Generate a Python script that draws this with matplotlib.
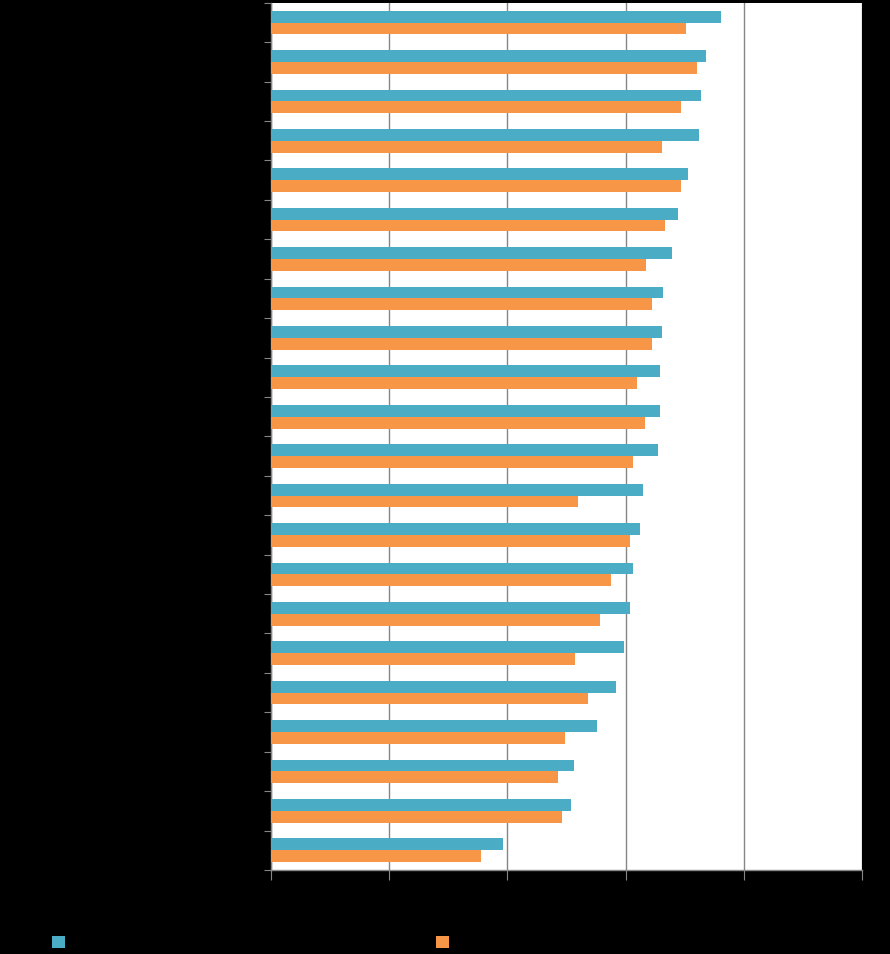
import numpy as np
import matplotlib.pyplot as plt

# values (axis 0-100, top category first)
series_a = [76.1, 73.6, 72.8, 72.4, 70.5, 68.8, 67.8, 66.3, 66.1, 65.8, 65.8,
            65.4, 62.9, 62.5, 61.2, 60.8, 59.8, 58.3, 55.1, 51.2, 50.8, 39.3]
series_b = [70.3, 72.0, 69.4, 66.1, 69.4, 66.6, 63.5, 64.4, 64.4, 61.9, 63.2,
            61.2, 52.0, 60.8, 57.6, 55.6, 51.4, 53.7, 49.7, 48.5, 49.2, 35.6]
x_ticks = [0, 20, 40, 60, 80, 100]

blue = '#4BACC6'
orange = '#F79646'
grid_grey = '#868686'

fig = plt.figure(figsize=(8.9, 9.542), dpi=100, facecolor='black')
ax = fig.add_axes([271 / 890, 1 - 870 / 954, 591 / 890, 867 / 954])
ax.set_facecolor('white')

n = len(series_a)
y = np.arange(n)
h = 0.3
bars_a = ax.barh(y - h / 2, series_a, height=h, color=blue, edgecolor='none', zorder=3)
bars_b = ax.barh(y + h / 2, series_b, height=h, color=orange, edgecolor='none', zorder=3)

ax.set_xlim(0, 100)
ax.set_ylim(n - 0.5, -0.5)
ax.set_xticks(x_ticks)
ax.set_xticklabels([str(t) for t in x_ticks], color='black')
ax.xaxis.grid(True, color=grid_grey, linewidth=1, zorder=0)
ax.set_axisbelow(True)

ax.set_yticks(np.arange(n + 1) - 0.5)
ax.set_yticklabels([])

for side in ['top', 'right']:
    ax.spines[side].set_visible(False)
for side in ['left', 'bottom']:
    ax.spines[side].set_color(grid_grey)
    ax.spines[side].set_linewidth(1)
ax.tick_params(axis='x', length=7, color=grid_grey, direction='out')
ax.tick_params(axis='y', length=5, color=grid_grey, direction='out')

leg1 = fig.legend([bars_a], [''], loc='center left', bbox_to_anchor=(46 / 890, 1 - 943 / 954),
                  frameon=False, handlelength=0.95, handleheight=0.95, borderaxespad=0)
leg2 = fig.legend([bars_b], [''], loc='center left', bbox_to_anchor=(430 / 890, 1 - 943 / 954),
                  frameon=False, handlelength=0.95, handleheight=0.95, borderaxespad=0)

fig.savefig('out.png', dpi=100, facecolor='black')
